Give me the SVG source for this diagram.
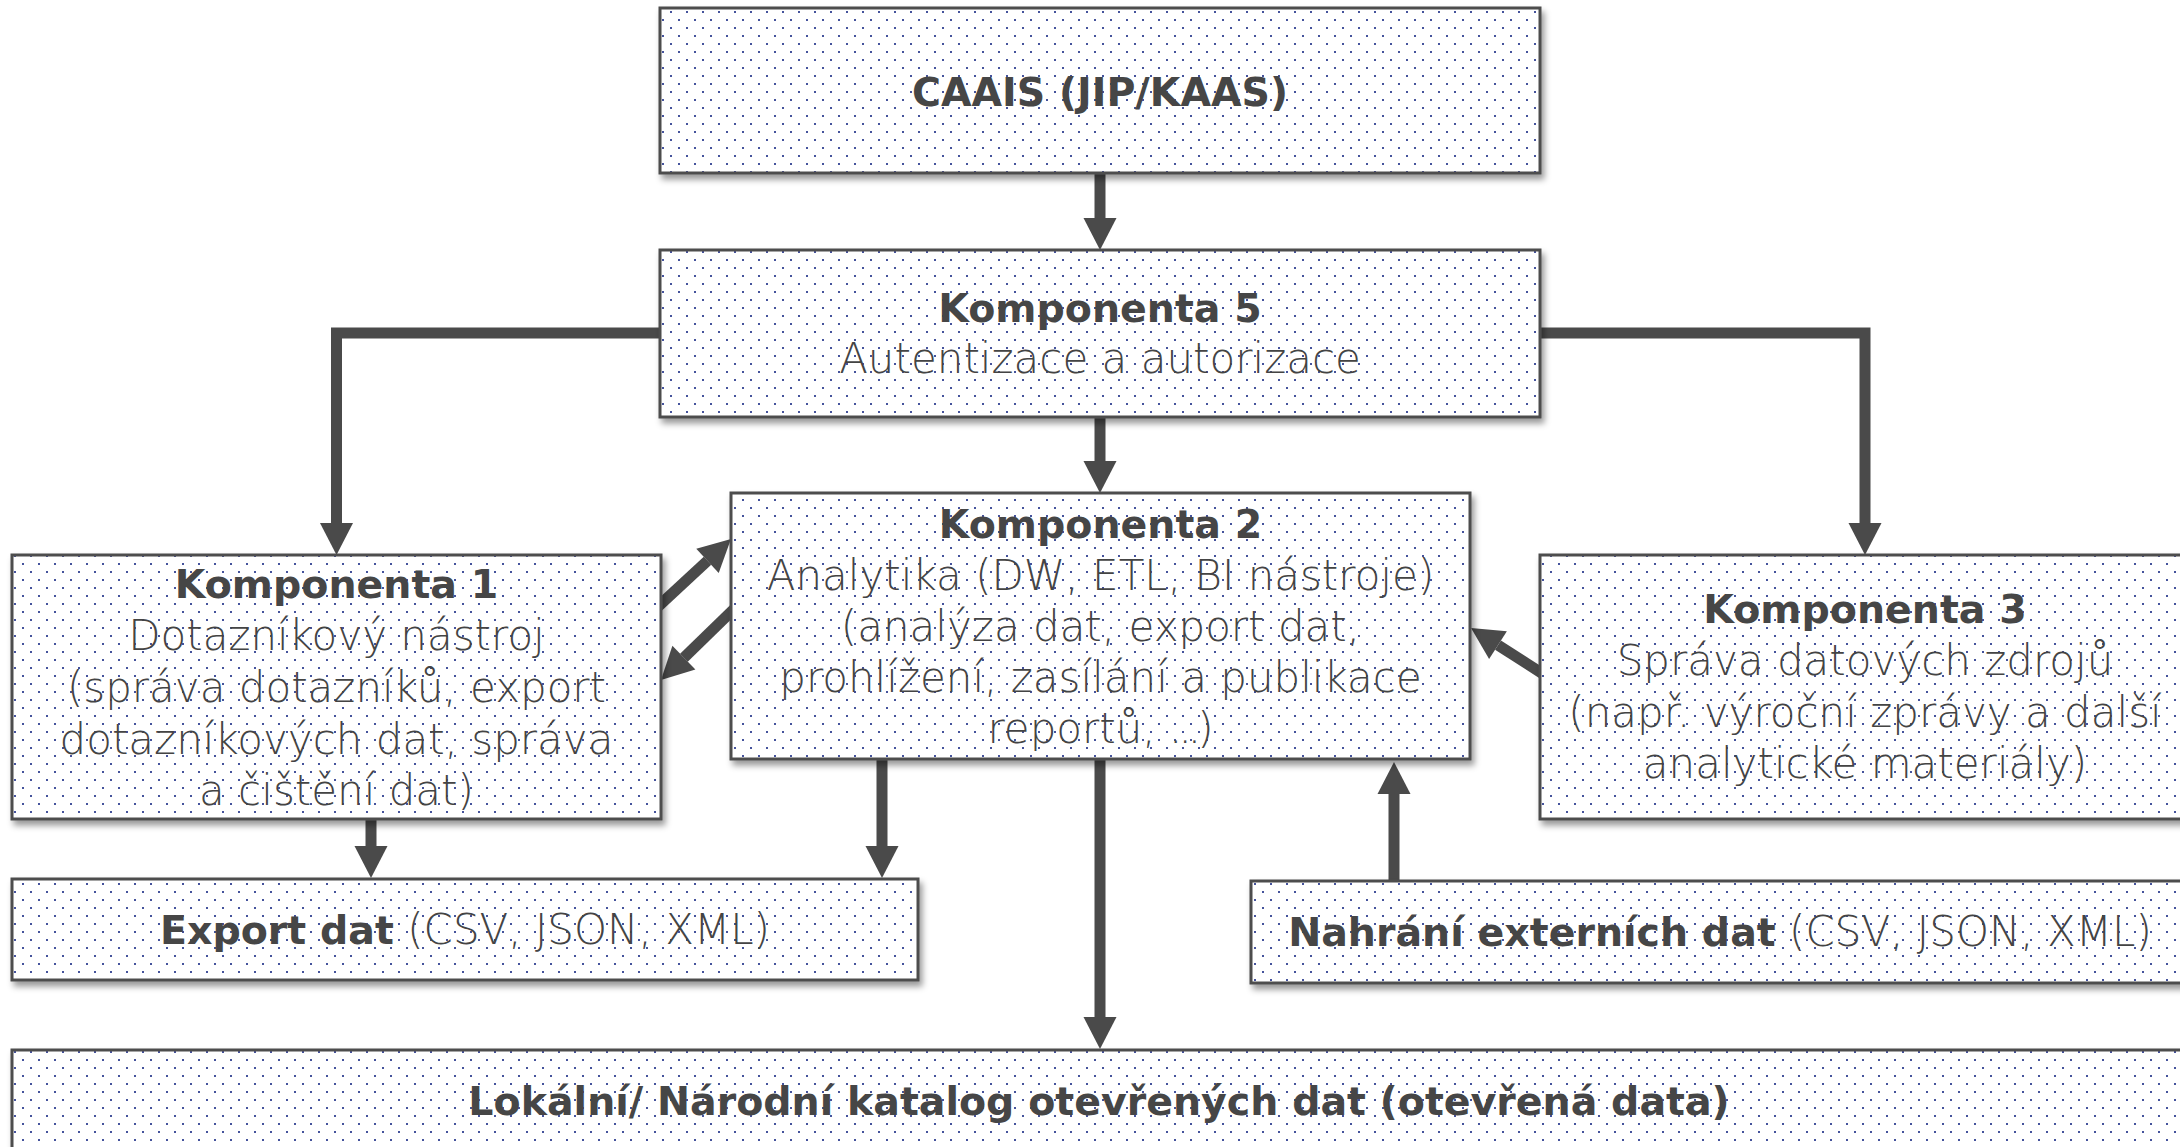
<svg xmlns="http://www.w3.org/2000/svg" width="2180" height="1147" viewBox="0 0 2180 1147">
  <defs>
    <!-- dotted fill used by every box -->
    <pattern id="dots" patternUnits="userSpaceOnUse" width="16" height="16">
      <rect width="16" height="16" fill="#ffffff"/>
      <rect x="6" y="3" width="2" height="2" fill="#45529c"/>
      <rect x="14" y="11" width="2" height="2" fill="#45529c"/>
    </pattern>
    <filter id="shadow" x="-5%" y="-10%" width="115%" height="130%">
      <feDropShadow dx="3" dy="5" stdDeviation="3" flood-color="#000000" flood-opacity="0.4"/>
    </filter>
    <marker id="head" markerUnits="userSpaceOnUse" viewBox="0 -16.5 32 33" refX="0" refY="0" markerWidth="32" markerHeight="33" orient="auto" overflow="visible">
      <path d="M0,-16.5 L32,0 L0,16.5 Z" fill="#4a4a4a"/>
    </marker>
  </defs>
  <style>
    .box { fill: url(#dots); stroke: #4d4d4d; stroke-width: 3; filter: url(#shadow); }
    .edge { fill: none; stroke: #4a4a4a; stroke-width: 11; stroke-linejoin: miter; marker-end: url(#head); }
    text { font-family: "DejaVu Sans", "Liberation Sans", sans-serif; text-anchor: middle; }
    .b { font-weight: 700; font-size: 39.5px; fill: #464646; }
    .l { font-weight: 300; font-size: 42px; fill: #444444; }
    .dots3 { letter-spacing: -4px; }
  </style>

  <rect width="2180" height="1147" fill="#ffffff"/>

  <!-- connectors -->
  <g id="connectors">
    <path class="edge" d="M1100,170 V218"/>
    <path class="edge" d="M665,333 H336.5 V523"/>
    <path class="edge" d="M1535,333 H1865 V523"/>
    <path class="edge" d="M1100,414 V461"/>
    <path class="edge" d="M655,609.4 L707.5,560.8"/>
    <path class="edge" d="M736.7,606.4 L683.9,657.7"/>
    <path class="edge" d="M1546.7,676.3 L1498,645.2"/>
    <path class="edge" d="M371,816 V846"/>
    <path class="edge" d="M882,756 V846"/>
    <path class="edge" d="M1100,756 V1017"/>
    <path class="edge" d="M1394,884 V794"/>
  </g>

  <!-- nodes -->
  <g id="caais">
    <rect class="box" x="660" y="8" width="880" height="165"/>
    <text class="b" x="1100" y="106" font-size="42">CAAIS (JIP/KAAS)</text>
  </g>

  <g id="komponenta5">
    <rect class="box" x="660" y="250" width="880" height="167"/>
    <text class="b" x="1100" y="322">Komponenta 5</text>
    <text class="l" x="1100" y="373">Autentizace a autorizace</text>
  </g>

  <g id="komponenta1">
    <rect class="box" x="12" y="555" width="649" height="264"/>
    <text class="b" x="336.5" y="598">Komponenta 1</text>
    <text class="l" x="336.5" y="650">Dotazníkový nástroj</text>
    <text class="l" x="336.5" y="702">(správa dotazníků, export</text>
    <text class="l" x="336.5" y="754">dotazníkových dat, správa</text>
    <text class="l" x="336.5" y="805">a čištění dat)</text>
  </g>

  <g id="komponenta2">
    <rect class="box" x="731" y="493" width="739" height="266"/>
    <text class="b" x="1100.5" y="538">Komponenta 2</text>
    <text class="l" x="1100.5" y="590">Analytika (DW, ETL, BI nástroje)</text>
    <text class="l" x="1100.5" y="641">(analýza dat, export dat,</text>
    <text class="l" x="1100.5" y="692">prohlížení, zasílání a publikace</text>
    <text class="l" x="1100.5" y="743">reportů, <tspan class="dots3">...</tspan>)</text>
  </g>

  <g id="komponenta3">
    <rect class="box" x="1540" y="555" width="650" height="264"/>
    <text class="b" x="1865" y="623">Komponenta 3</text>
    <text class="l" x="1865" y="675">Správa datových zdrojů</text>
    <text class="l" x="1865" y="727">(např. výroční zprávy a další</text>
    <text class="l" x="1865" y="778">analytické materiály)</text>
  </g>

  <g id="export-dat">
    <rect class="box" x="12" y="879" width="906" height="101"/>
    <text x="465" y="944"><tspan class="b">Export dat</tspan><tspan class="l"> (CSV, JSON, XML)</tspan></text>
  </g>

  <g id="nahrani-dat">
    <rect class="box" x="1251" y="881" width="938" height="102"/>
    <text x="1720" y="946"><tspan class="b">Nahrání externích dat</tspan><tspan class="l"> (CSV, JSON, XML)</tspan></text>
  </g>

  <g id="katalog">
    <rect class="box" x="12" y="1050" width="2176" height="130"/>
    <text class="b" x="1099" y="1115">Lokální/ Národní katalog otevřených dat (otevřená data)</text>
  </g>
</svg>
